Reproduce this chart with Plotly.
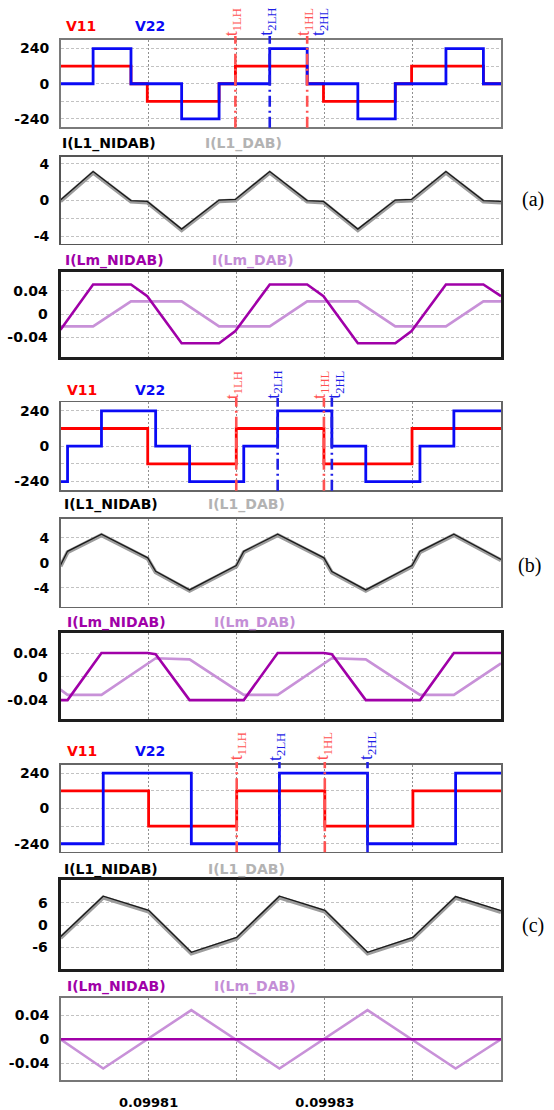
import plotly.graph_objects as go

W, H = 554, 1110
T0 = 0.0998          # start of the time window (s)
US = 1e-6            # data times below are in microseconds after T0

# ---------------- x axis ----------------
x_grid_vals = [0.09981, 0.09982, 0.09983, 0.09984]
x_grid_text = ["0.09981", " ", "0.09983", " "]

# ---------------- (a) ----------------
a_v11_t = [0, 8.0, 9.85, 18.0, 19.85, 28.0, 29.85, 38.0, 39.85, 48.0, 50]
a_v11 = [120, 0, -120, 0, 120, 0, -120, 0, 120, 0, 0]
a_v22_t = [0, 3.7, 8.0, 13.75, 18.0, 23.75, 28.0, 33.75, 38.0, 43.75, 48.0, 50]
a_v22 = [0, 240, 0, -240, 0, 240, 0, -240, 0, 240, 0, 0]
a_i_t = [0, 3.7, 8.0, 9.85, 13.75, 18.0, 19.85, 23.75, 28.0, 29.85, 33.75, 38.0, 39.85, 43.75, 48.0, 50]
a_iL1_nidab = [0.0, 3.15, -0.05, -0.15, -3.2, 0.0, 0.08, 3.15, -0.05, -0.15, -3.2, 0.0, 0.08, 3.15, -0.05, -0.15]
a_iL1_dab = [-0.12, 3.02, -0.17, -0.27, -3.32, -0.12, -0.04, 3.02, -0.17, -0.27, -3.32, -0.12, -0.04, 3.02, -0.17, -0.27]
a_iLm_nidab = [-0.027, 0.051, 0.051, 0.031, -0.050, -0.050, -0.029, 0.051, 0.051, 0.031, -0.050, -0.050, -0.029, 0.051, 0.051, 0.031]
a_iLm_dab_t = [0, 3.7, 8.0, 13.75, 18.0, 23.75, 28.0, 33.75, 38.0, 43.75, 48.0, 50]
a_iLm_dab = [-0.021, -0.021, 0.022, 0.022, -0.021, -0.021, 0.022, 0.022, -0.021, -0.021, 0.022, 0.022]
a_events_t = [19.85, 23.75, 28.0, 28.0]

# ---------------- (b) ----------------
b_v11_t = [0, 9.9, 19.95, 29.9, 39.9, 50]
b_v11 = [120, -120, 120, -120, 120, 120]
b_v22_t = [0, 0.8, 4.65, 10.8, 14.65, 20.8, 24.65, 30.8, 34.65, 40.8, 44.65, 50]
b_v22 = [-240, 0, 240, 0, -240, 0, 240, 0, -240, 0, 240, 240]
b_i_t = [0, 0.8, 4.65, 9.9, 10.8, 14.65, 19.95, 20.8, 24.65, 29.9, 30.8, 34.65, 39.9, 40.8, 44.65, 50]
b_iL1_nidab = [-0.4, 1.85, 4.6, 0.8, -1.35, -4.35, -0.45, 1.85, 4.6, 0.8, -1.4, -4.35, -0.45, 1.85, 4.6, 0.55]
b_iL1_dab = [-0.55, 1.7, 4.45, 0.65, -1.5, -4.5, -0.6, 1.7, 4.45, 0.65, -1.55, -4.5, -0.6, 1.7, 4.45, 0.4]
b_iLm_nidab_t = [0, 0.8, 4.65, 9.9, 10.8, 14.65, 20.8, 24.65, 29.9, 30.8, 34.65, 40.8, 44.65, 50]
b_iLm_nidab = [-0.040, -0.040, 0.041, 0.041, 0.039, -0.040, -0.040, 0.041, 0.041, 0.039, -0.040, -0.040, 0.041, 0.041]
b_iLm_dab_t = [0, 0.8, 4.65, 10.8, 14.65, 20.8, 24.65, 30.8, 34.65, 40.8, 44.65, 50]
b_iLm_dab = [-0.022, -0.031, -0.031, 0.032, 0.030, -0.031, -0.031, 0.032, 0.030, -0.031, -0.031, 0.023]
b_events_t = [19.95, 24.65, 29.9, 30.8]

# ---------------- (c) ----------------
c_v11_t = [0, 10, 20, 30, 40, 50]
c_v11 = [120, -120, 120, -120, 120, 120]
c_v22_t = [0, 4.85, 14.85, 24.85, 34.85, 44.85, 50]
c_v22 = [-240, 240, -240, 240, -240, 240, 240]
c_i_t = [0, 4.85, 10, 14.85, 20, 24.85, 30, 34.85, 40, 44.85, 50]
c_iL1_nidab = [-3.1, 7.8, 4.0, -7.3, -3.3, 7.8, 4.0, -7.3, -3.3, 7.7, 3.9]
c_iL1_dab = [-3.45, 7.45, 3.65, -7.65, -3.65, 7.45, 3.65, -7.65, -3.65, 7.35, 3.55]
c_iLm_nidab_t = [0, 50]
c_iLm_nidab = [0.0, 0.0]
c_iLm_dab_t = [0, 4.85, 14.85, 24.85, 34.85, 44.85, 50]
c_iLm_dab = [0.0, -0.049, 0.049, -0.049, 0.049, -0.049, 0.0]
c_events_t = [20, 24.85, 30, 34.85]

event_names = ["1LH", "2LH", "1HL", "2HL"]

# ---------------- styling ----------------
RED, BLUE = "#FF0000", "#0A0AF5"
MRED, MBLUE = "#FF5252", "#1E1EE6"
BLACK, GRAY = "#1a1a1a", "#9c9c9c"
PURPLE, LPURPLE = "#A000A8", "#C891D8"
XL, XR = 60.5, 501.0

def tx(ts):
    return [T0 + t * US for t in ts]

# panel geometry: (top px, bottom px, y range, grid values, labelled values, border colour, border width)
panels = [
    (39.0, 126.5, [-296, 299], [-240, -120, 0, 120, 240], [240, 0, -240], "#7a7a7a", 1.5),
    (156.0, 243.3, [-4.8, 4.8], [-4, -2, 0, 2, 4], [4, 0, -4], "#555555", 1.5),
    (271.7, 356.7, [-0.0733, 0.0726], [-0.04, 0, 0.04], [0.04, 0, -0.04], "#1e1e1e", 3),
    (402.5, 490.7, [-300, 297], [-240, -120, 0, 120, 240], [240, 0, -240], "#666666", 1.5),
    (519.0, 607.3, [-7.04, 7.1], [-4, 4], [4, 0, -4], "#666666", 1.5),
    (634.0, 720.0, [-0.0725, 0.0748], [-0.04, 0, 0.04], [0.04, 0, -0.04], "#1e1e1e", 3),
    (766.0, 853.3, [-296, 296], [-240, -120, 0, 120, 240], [240, 0, -240], "#666666", 1.5),
    (881.7, 971.0, [-11.9, 12.07], [-6, 0, 6], [6, 0, -6], "#1e1e1e", 3),
    (999.3, 1082.3, [-0.069, 0.070], [-0.04, 0, 0.04], [0.04, 0, -0.04], "#777777", 1.5),
]

def fmt(v):
    if v == 0:
        return "0"
    if abs(v) < 1:
        return ("%.2f" % v)
    return "%d" % v

fig = go.Figure()

def axn(i):
    return ("x" if i == 1 else f"x{i}"), ("y" if i == 1 else f"y{i}")

def add(i, ts, ys, color, width, shape="linear"):
    xa, ya = axn(i)
    fig.add_trace(go.Scatter(x=tx(ts), y=ys, mode="lines", xaxis=xa, yaxis=ya,
                             line=dict(color=color, width=width, shape=shape),
                             hoverinfo="skip", showlegend=False))

# (a)
add(1, a_v11_t, a_v11, RED, 2.8, "hv")
add(1, a_v22_t, a_v22, BLUE, 2.8, "hv")
add(2, a_i_t, a_iL1_dab, GRAY, 4)
add(2, a_i_t, a_iL1_nidab, BLACK, 1.3)
add(3, a_iLm_dab_t, a_iLm_dab, LPURPLE, 2.6)
add(3, a_i_t, a_iLm_nidab, PURPLE, 2.6)
# (b)
add(4, b_v11_t, b_v11, RED, 2.8, "hv")
add(4, b_v22_t, b_v22, BLUE, 2.8, "hv")
add(5, b_i_t, b_iL1_dab, GRAY, 4)
add(5, b_i_t, b_iL1_nidab, BLACK, 1.3)
add(6, b_iLm_dab_t, b_iLm_dab, LPURPLE, 2.6)
add(6, b_iLm_nidab_t, b_iLm_nidab, PURPLE, 2.6)
# (c)
add(7, c_v11_t, c_v11, RED, 2.8, "hv")
add(7, c_v22_t, c_v22, BLUE, 2.8, "hv")
add(8, c_i_t, c_iL1_dab, GRAY, 4)
add(8, c_i_t, c_iL1_nidab, BLACK, 1.3)
add(9, c_iLm_dab_t, c_iLm_dab, LPURPLE, 2.6)
add(9, c_iLm_nidab_t, c_iLm_nidab, PURPLE, 2.6)

tickfont = dict(family="DejaVu Sans", size=14, color="black", weight="bold")
layout = dict(width=W, height=H, margin=dict(l=0, r=0, t=0, b=0),
              paper_bgcolor="white", plot_bgcolor="white", showlegend=False)

for i, (top, bot, yr, grid, labs, bc, bw) in enumerate(panels, start=1):
    xa, ya = axn(i)
    xk = "xaxis" if i == 1 else f"xaxis{i}"
    yk = "yaxis" if i == 1 else f"yaxis{i}"
    layout[xk] = dict(domain=[XL / W, XR / W], range=[T0, T0 + 50 * US], anchor=ya,
                      tickmode="array", tickvals=x_grid_vals, ticktext=x_grid_text,
                      showticklabels=(i == 9), ticks="", showgrid=True,
                      gridcolor="#8f8f8f", griddash="2px,2px", gridwidth=1,
                      zeroline=False, showline=True, mirror=True, linecolor=bc, linewidth=bw,
                      tickfont=dict(family="DejaVu Sans", size=13, color="black", weight="bold"),
                      ticklabelstandoff=10)
    yd = dict(domain=[1 - bot / H, 1 - top / H], range=yr, anchor=xa,
              tickmode="array", tickvals=labs, ticktext=[fmt(v) for v in labs],
              ticks="", showgrid=False, zeroline=False,
              showline=True, mirror=True, linecolor=bc, linewidth=bw,
              tickfont=tickfont, ticklabelstandoff=7,
              minor=dict(tickmode="array", tickvals=grid, showgrid=True, ticks="",
                         gridcolor="#c2c2c2", griddash="3px,2px", gridwidth=1))
    layout[yk] = yd

fig.update_layout(**layout)

# ---------------- text labels ----------------
def note(text, xpx, ypx, color, size=14, family="DejaVu Sans", bold=True, xanchor="left"):
    fig.add_annotation(text=text, xref="paper", yref="paper", x=xpx / W, y=1 - ypx / H,
                       xanchor=xanchor, yanchor="middle", showarrow=False,
                       font=dict(family=family, size=size, color=color,
                                 weight="bold" if bold else "normal"))

for (vy, iy, my, dx) in [(25, 143.3, 260.0, 0), (390, 505, 623.3, 2), (751.7, 870.7, 987.7, 2)]:
    note("V11", 64 + dx * 0.3, vy, RED)
    note("V22", 132.5, vy, BLUE)
    note("I(L1_NIDAB)", 60 + dx * 1.2, iy, "black")
    note("I(L1_DAB)", 203 + dx * 1.5, iy, "#b3b3b3")
    note("I(Lm_NIDAB)", 63 + dx, my, PURPLE)
    note("I(Lm_DAB)", 210 + dx, my, "#C48ED6")

note("(a)", 533, 199, "black", size=20, family="Liberation Serif", bold=False, xanchor="center")
note("(b)", 529, 566, "black", size=20, family="Liberation Serif", bold=False, xanchor="center")
note("(c)", 533, 927, "black", size=20, family="Liberation Serif", bold=False, xanchor="center")

# ---------------- switching instants ----------------
ev_colors = [MRED, MBLUE, MRED, MBLUE]
groups = [
    ("x", a_events_t, [-2, -2, -2, 13], [True, True, True, False], 21.0, 35.0, 127.0),
    ("x4", b_events_t, [-2, -3, -3, 4], [True, True, True, True], 385.0, 398.0, 491.0),
    ("x7", c_events_t, [1, -3, -1, 0], [True, True, True, True], 747.5, 763.0, 853.5),
]
for xa, evs, shifts, draw, ylab, y0, y1 in groups:
    for name, t, sh, dr, col in zip(event_names, evs, shifts, draw, ev_colors):
        if dr:
            fig.add_shape(type="line", xref=xa, yref="paper",
                          x0=T0 + t * US, x1=T0 + t * US, y0=1 - y1 / H, y1=1 - y0 / H,
                          line=dict(color=col, width=2.6, dash="11px,4px,2px,4px"), layer="above")
        fig.add_annotation(text="t<sub>" + name + "</sub>", xref=xa, yref="paper",
                           x=T0 + t * US, y=1 - ylab / H, xshift=sh, textangle=-90,
                           showarrow=False, xanchor="center", yanchor="middle",
                           font=dict(family="Liberation Serif", size=18, color=col))

fig.write_html("out.html", config={"displayModeBar": False, "staticPlot": True},
               post_script="document.body.style.margin='0';document.body.style.padding='0';"
                           "document.documentElement.style.overflow='hidden';")
